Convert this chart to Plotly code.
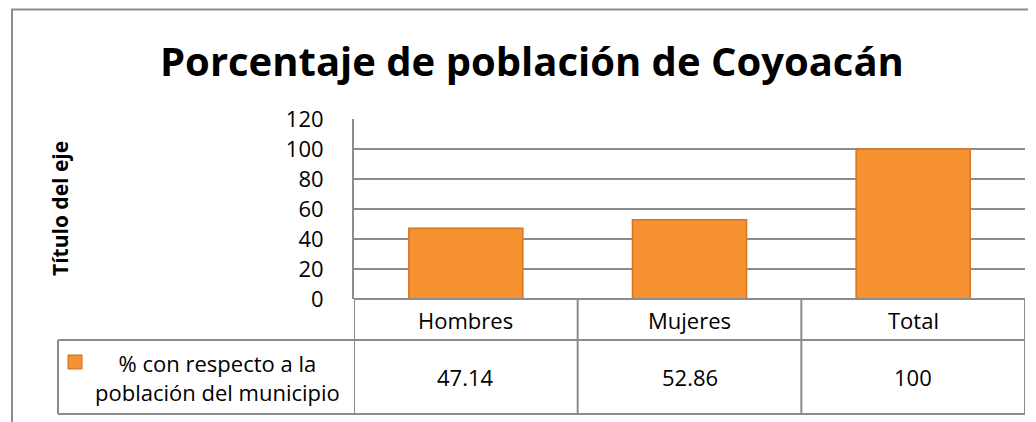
import plotly.graph_objects as go

# Data
categorias = ["Hombres", "Mujeres", "Total"]
porcentaje = [47.14, 52.86, 100]
serie = "% con respecto a la población del municipio"
titulo = "Porcentaje de población de Coyoacán"
titulo_eje = "Título del eje"

# page body adds an 8px offset, so the figure is 8px smaller and positions shifted
OFF = 8
W, H = 1036 - OFF, 422 - OFF
def px(x):  # screen pixel -> paper x
    return (x - OFF) / W
def py(y):  # screen pixel (from top) -> paper y
    return 1 - (y - OFF) / H

gris = "#8c8c8c"
naranja = "#f5922f"
fuente = "Open Sans"

fig = go.Figure()
fig.add_trace(go.Bar(
    x=categorias, y=porcentaje, name=serie,
    marker=dict(color=naranja, line=dict(color="#d27724", width=1.5)),
    showlegend=False,
))

fig.update_layout(
    width=W, height=H,
    margin=dict(l=0, r=0, t=0, b=0, pad=0),
    paper_bgcolor="white", plot_bgcolor="white",
    bargap=0.49,
    font=dict(family=fuente, size=22, color="black"),
    xaxis=dict(domain=[px(354), px(1025)], range=[-0.5, 2.5], automargin=False,
               showticklabels=False, showgrid=False, zeroline=False, showline=False),
    yaxis=dict(domain=[py(299), py(119)], range=[0, 120], dtick=20, automargin=False,
               showgrid=True, gridcolor=gris, gridwidth=1.5,
               zeroline=False, showline=True, linecolor=gris, linewidth=2,
               ticks="", ticklabelstandoff=24,
               tickfont=dict(family=fuente, size=22, color="black")),
)

# title
fig.add_annotation(text="<b>" + titulo + "</b>", xref="paper", yref="paper",
                   x=px(532), y=py(60), showarrow=False, xanchor="center", yanchor="middle",
                   font=dict(family=fuente, size=40, color="black"))
# axis title
fig.add_annotation(text="<b>" + titulo_eje + "</b>", xref="paper", yref="paper",
                   x=px(60), y=py(209), textangle=-90, showarrow=False,
                   xanchor="center", yanchor="middle",
                   font=dict(family=fuente, size=21, color="black"))

linea = dict(color=gris, width=2)
# outer chart border (left and top)
fig.add_shape(type="path", xref="paper", yref="paper",
              path=f"M {px(12)},0 L {px(12)},{1 - 1.5 / H} L 1,{1 - 1.5 / H}",
              line=linea)

# data table grid
n = len(categorias)
for i in range(n + 1):
    fig.add_shape(type="line", xref="x", yref="paper",
                  x0=i - 0.5, x1=i - 0.5, y0=py(299), y1=py(414), line=linea)
fig.add_shape(type="line", xref="x", yref="paper",
              x0=-0.5, x1=n - 0.5, y0=py(299), y1=py(299), line=linea)
fig.add_shape(type="line", xref="paper", yref="paper",
              x0=px(58), x1=px(1025), y0=py(340), y1=py(340), line=linea)
fig.add_shape(type="line", xref="paper", yref="paper",
              x0=px(58), x1=px(1025), y0=py(414), y1=py(414), line=linea)
fig.add_shape(type="line", xref="paper", yref="paper",
              x0=px(58), x1=px(58), y0=py(340), y1=py(414), line=linea)

# table text
for c, v in zip(categorias, porcentaje):
    fig.add_annotation(text=c, xref="x", yref="paper", x=c, y=py(320),
                       showarrow=False, xanchor="center", yanchor="middle",
                       font=dict(size=22))
    fig.add_annotation(text=f"{v:g}", xref="x", yref="paper", x=c, y=py(377),
                       showarrow=False, xanchor="center", yanchor="middle",
                       font=dict(size=22))

# legend key + series name
fig.add_shape(type="rect", xref="paper", yref="paper",
              x0=px(68), x1=px(82), y0=py(369), y1=py(355),
              fillcolor=naranja, line=dict(color="#c86e22", width=1))
fig.add_annotation(text=serie.replace(" a la ", " a la<br>", 1), xref="paper", yref="paper",
                   x=px(217), y=py(377), showarrow=False, xanchor="center", yanchor="middle",
                   font=dict(size=22))

fig.write_html("out.html")
